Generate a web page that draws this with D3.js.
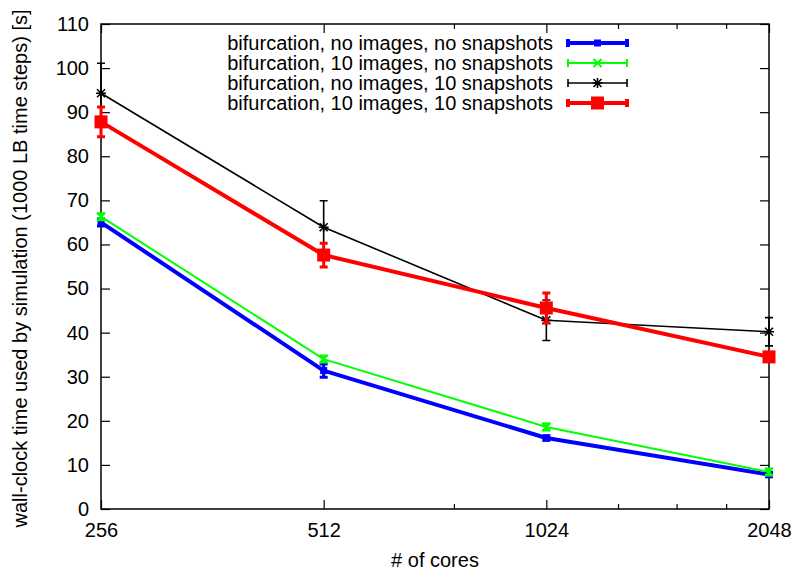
<!DOCTYPE html>
<html>
<head>
<meta charset="utf-8">
<script src="https://cdn.jsdelivr.net/npm/d3@7"></script>
<style>
  body { margin: 0; background: #fff; }
  svg text { font-family: "Liberation Sans", Arial, sans-serif; font-size: 20px; fill: #000; }
</style>
</head>
<body>
<div id="chart"></div>
<script>
var cores = [256, 512, 1024, 2048];
var minorCores = [768, 1280, 1536, 1792];
var yTicks = [0, 10, 20, 30, 40, 50, 60, 70, 80, 90, 100, 110];

var seriesNames = [
    "bifurcation, no images, no snapshots",
    "bifurcation, 10 images, no snapshots",
    "bifurcation, no images, 10 snapshots",
    "bifurcation, 10 images, 10 snapshots"
];
var noImgNoSnap = [65.0, 31.4, 16.1, 7.8];
var noImgNoSnapErr = [0.8, 1.5, 0.5, 0.5];
var imgNoSnap = [66.3, 34.0, 18.6, 8.4];
var imgNoSnapErr = [0.8, 0.8, 0.8, 0.8];
var noImgSnap = [94.3, 63.9, 42.8, 40.2];
var noImgSnapErr = [6.8, 6.0, 4.6, 3.2];
var imgSnap = [87.8, 57.6, 45.6, 34.5];
var imgSnapErr = [3.4, 2.7, 3.4, 0.8];

var svgW = 793, svgH = 571;
var m = { left: 101, top: 24, right: 24, bottom: 62 };
var plotR = svgW - m.right, plotB = svgH - m.bottom;

var svg = d3.select("#chart").append("svg")
    .attr("width", svgW)
    .attr("height", svgH);

var x = d3.scaleLog().base(2).domain([256, 2048]).range([m.left, plotR]);
var y = d3.scaleLinear().domain([0, 110]).range([plotB, m.top]);

// axes, ticks point inward like gnuplot
function styleAxis(g) {
    g.select(".domain").remove();
    g.selectAll(".tick line").attr("stroke", "#000").attr("stroke-width", 1.2);
    g.selectAll("text").attr("font-size", null).attr("font-family", null);
}
svg.append("g").attr("transform", "translate(0," + plotB + ")")
    .call(d3.axisBottom(x).tickValues(cores).tickFormat(d3.format("d")).tickSize(-9).tickSizeOuter(0).tickPadding(14))
    .call(styleAxis);
svg.append("g").attr("transform", "translate(0," + plotB + ")")
    .call(d3.axisBottom(x).tickValues(minorCores).tickFormat("").tickSize(-5).tickSizeOuter(0))
    .call(styleAxis);
svg.append("g").attr("transform", "translate(0," + m.top + ")")
    .call(d3.axisTop(x).tickValues(cores).tickFormat("").tickSize(-9).tickSizeOuter(0))
    .call(styleAxis);
svg.append("g").attr("transform", "translate(0," + m.top + ")")
    .call(d3.axisTop(x).tickValues(minorCores).tickFormat("").tickSize(-5).tickSizeOuter(0))
    .call(styleAxis);
svg.append("g").attr("transform", "translate(" + m.left + ",0)")
    .call(d3.axisLeft(y).tickValues(yTicks).tickSize(-9).tickSizeOuter(0).tickPadding(12))
    .call(styleAxis);
svg.append("g").attr("transform", "translate(" + plotR + ",0)")
    .call(d3.axisRight(y).tickValues(yTicks).tickFormat("").tickSize(-9).tickSizeOuter(0))
    .call(styleAxis);

svg.append("rect")
    .attr("x", m.left).attr("y", m.top)
    .attr("width", plotR - m.left).attr("height", plotB - m.top)
    .attr("fill", "none").attr("stroke", "#000").attr("stroke-width", 1.5);

// axis titles
svg.append("text")
    .attr("x", (m.left + plotR) / 2).attr("y", 567)
    .attr("text-anchor", "middle")
    .text("# of cores");
svg.append("text")
    .attr("transform", "translate(27," + ((m.top + plotB) / 2 + 2) + ") rotate(-90)")
    .attr("text-anchor", "middle")
    .text("wall-clock time used by simulation (1000 LB time steps) [s]");

// point symbols
function drawPoint(g, kind, cx, cy, color) {
    if (kind === "smallSquare") {
        g.append("rect").attr("x", cx - 3.5).attr("y", cy - 3.5).attr("width", 7).attr("height", 7).attr("fill", color);
    } else if (kind === "bigSquare") {
        g.append("rect").attr("x", cx - 6.5).attr("y", cy - 6.5).attr("width", 13).attr("height", 13).attr("fill", color);
    } else if (kind === "cross") {
        g.append("path").attr("d", "M" + (cx - 4) + "," + (cy - 4) + "L" + (cx + 4) + "," + (cy + 4) +
            "M" + (cx - 4) + "," + (cy + 4) + "L" + (cx + 4) + "," + (cy - 4))
            .attr("stroke", color).attr("stroke-width", 2);
    } else if (kind === "star") {
        g.append("path").attr("d", "M" + (cx - 4) + "," + (cy - 4) + "L" + (cx + 4) + "," + (cy + 4) +
            "M" + (cx - 4) + "," + (cy + 4) + "L" + (cx + 4) + "," + (cy - 4) +
            "M" + (cx - 5) + "," + cy + "L" + (cx + 5) + "," + cy +
            "M" + cx + "," + (cy - 5) + "L" + cx + "," + (cy + 5))
            .attr("stroke", color).attr("stroke-width", 1.6);
    }
}

var series = [
    { name: seriesNames[0], vals: noImgNoSnap, errs: noImgNoSnapErr, color: "#0000ff", lw: 4, ew: 3, pt: "smallSquare" },
    { name: seriesNames[1], vals: imgNoSnap, errs: imgNoSnapErr, color: "#00ff00", lw: 2, ew: 2, pt: "cross" },
    { name: seriesNames[2], vals: noImgSnap, errs: noImgSnapErr, color: "#000000", lw: 1.6, ew: 1.6, pt: "star" },
    { name: seriesNames[3], vals: imgSnap, errs: imgSnapErr, color: "#ff0000", lw: 4, ew: 3, pt: "bigSquare" }
];

var line = d3.line()
    .x(function(d, i) { return x(cores[i]); })
    .y(function(d) { return y(d); });

var capW = 4;
series.forEach(function(s) {
    var g = svg.append("g");
    g.append("path")
        .attr("d", line(s.vals))
        .attr("fill", "none")
        .attr("stroke", s.color)
        .attr("stroke-width", s.lw)
        .attr("stroke-linejoin", "round");
    s.vals.forEach(function(v, i) {
        var cx = x(cores[i]);
        var y0 = y(v - s.errs[i]), y1 = y(v + s.errs[i]);
        g.append("path")
            .attr("d", "M" + cx + "," + y0 + "L" + cx + "," + y1 +
                "M" + (cx - capW) + "," + y0 + "L" + (cx + capW) + "," + y0 +
                "M" + (cx - capW) + "," + y1 + "L" + (cx + capW) + "," + y1)
            .attr("stroke", s.color)
            .attr("stroke-width", s.ew)
            .attr("fill", "none");
        drawPoint(g, s.pt, cx, y(v), s.color);
    });
});

// legend
var legX0 = 568, legX1 = 627, legTextX = 553;
series.forEach(function(s, i) {
    var ly = 43 + i * 20;
    var g = svg.append("g");
    g.append("text")
        .attr("x", legTextX).attr("y", ly + 7)
        .attr("text-anchor", "end")
        .text(s.name);
    g.append("path")
        .attr("d", "M" + legX0 + "," + ly + "L" + legX1 + "," + ly +
            "M" + legX0 + "," + (ly - 4) + "L" + legX0 + "," + (ly + 4) +
            "M" + legX1 + "," + (ly - 4) + "L" + legX1 + "," + (ly + 4))
        .attr("stroke", s.color)
        .attr("stroke-width", s.lw)
        .attr("fill", "none");
    drawPoint(g, s.pt, (legX0 + legX1) / 2, ly, s.color);
});
</script>
</body>
</html>
